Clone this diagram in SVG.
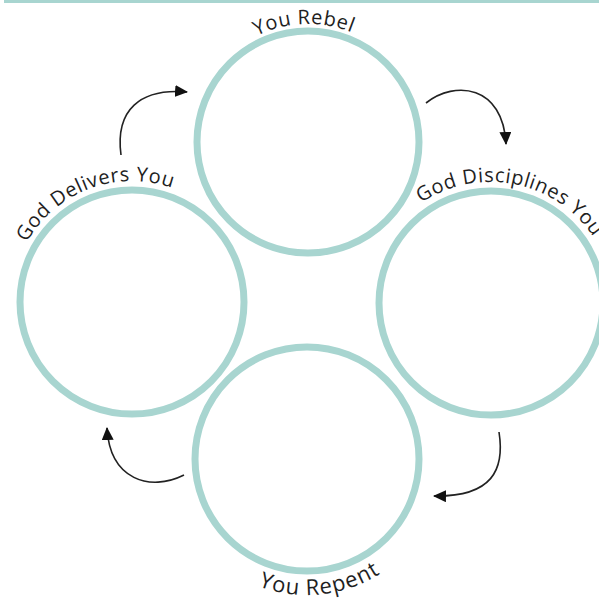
<svg xmlns="http://www.w3.org/2000/svg" width="599" height="602" viewBox="0 0 599 602">
<style>
.ring{fill:none;stroke:#a8d5d0;stroke-width:7}
.lbl{font-family:"Open Sans","Liberation Sans",sans-serif;font-size:20px;fill:#1f1f1f;letter-spacing:0.6px}
.big{font-size:22px;letter-spacing:1px}
.arr{fill:none;stroke:#222;stroke-width:1.6}
</style>
<defs>
<marker id="ah" markerUnits="userSpaceOnUse" markerWidth="14" markerHeight="12" refX="12" refY="6" orient="auto">
<path d="M0,0 L13,6 L0,12 Z" fill="#111"/>
</marker>
<path id="pTop" d="M190.16,135.82 A118,118 0 0 1 425.12,127.62"/>
<path id="pLeft" d="M18.66,344.37 A121,121 0 0 1 245.34,259.63"/>
<path id="pRight" d="M369.4,278.9 A124,124 0 0 1 612.6,327.1"/>
<path id="pBottom" d="M171.7,473.2 A136,136 0 0 0 442.3,444.8"/>
</defs>
<rect x="4" y="0" width="595" height="3" fill="#a8d5d0"/>
<g id="node-rebel">
<circle class="ring" cx="308" cy="142" r="111"/>
<text class="lbl"><textPath href="#pTop" startOffset="50%" text-anchor="middle">You Rebel</textPath></text>
</g>
<g id="node-delivers">
<circle class="ring" cx="132" cy="302" r="112"/>
<text class="lbl"><textPath href="#pLeft" startOffset="50%" text-anchor="middle">God Delivers You</textPath></text>
</g>
<g id="node-disciplines">
<circle class="ring" cx="491" cy="303" r="112"/>
<text class="lbl"><textPath href="#pRight" startOffset="50%" text-anchor="middle">God Disciplines You</textPath></text>
</g>
<g id="node-repent">
<circle class="ring" cx="307" cy="459" r="112"/>
<text class="lbl big"><textPath href="#pBottom" startOffset="50%" text-anchor="middle">You Repent</textPath></text>
</g>
<g id="connectors">
<path class="arr" d="M121,155 C115,110 140,88 187,92" marker-end="url(#ah)"/>
<path class="arr" d="M426,103 C455,80 503,85 506,144" marker-end="url(#ah)"/>
<path class="arr" d="M499,432 C505,470 492,497 434,496" marker-end="url(#ah)"/>
<path class="arr" d="M184,475 C150,492 110,480 107,428" marker-end="url(#ah)"/>
</g>
</svg>
